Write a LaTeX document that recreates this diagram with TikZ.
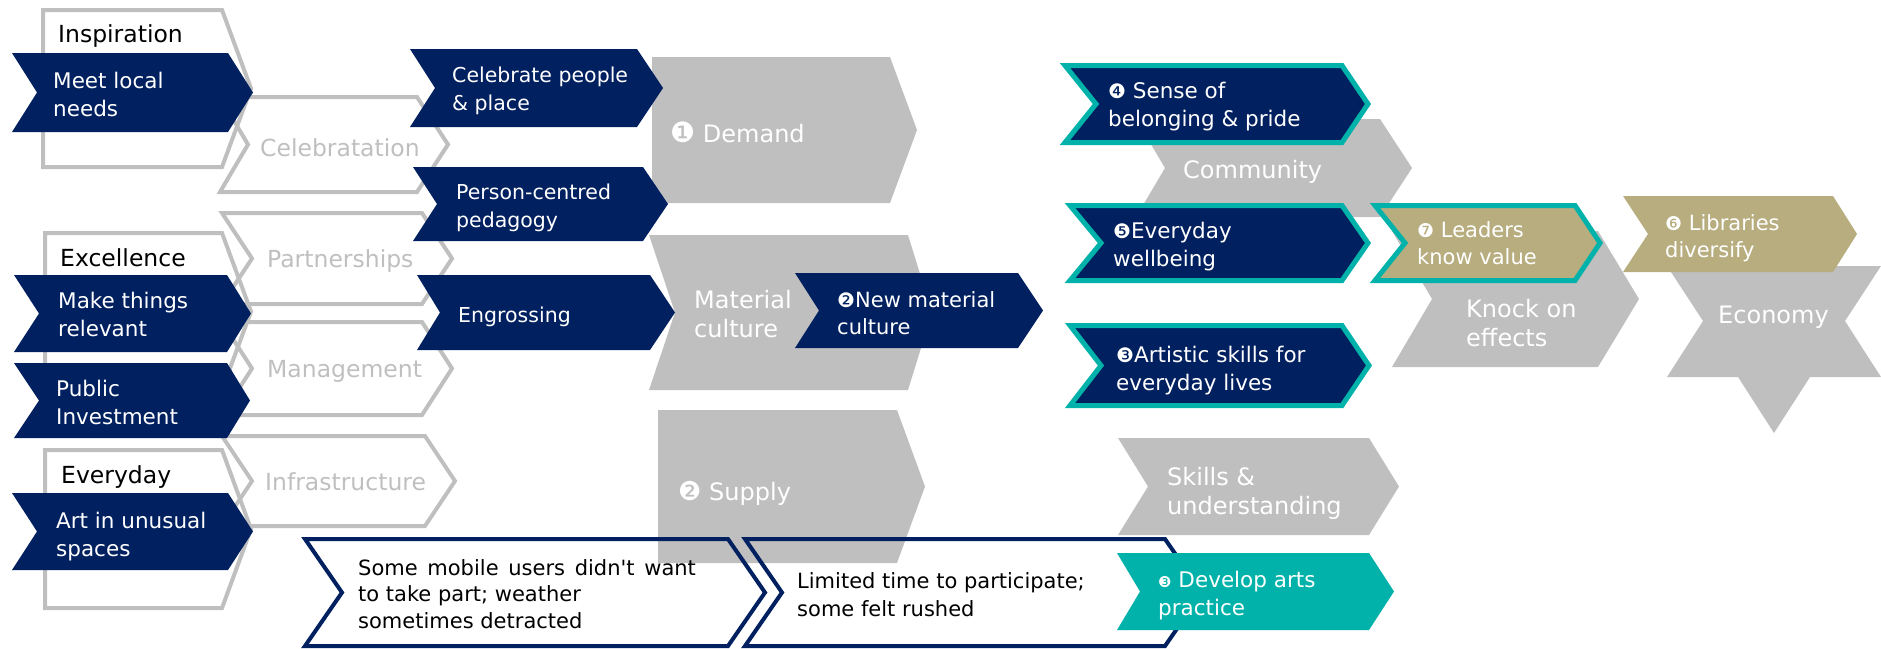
\documentclass[tikz,border=0pt]{standalone}
\usepackage{fontspec}
\setmainfont{DejaVu Sans}[Ligatures=TeXOff]
\definecolor{navy}{HTML}{002060}
\definecolor{teal}{HTML}{00B2A9}
\definecolor{tan}{HTML}{B7AD7E}
\definecolor{lgray}{HTML}{BFBFBF}
% chevron: style, x-left, x-right, y-top, y-bottom, tip x, notch x
\newcommand\chev[7]{%
  \path[#1] (#2,#4) -- (#3,#4) -- (#6,{(#4+#5)/2}) -- (#3,#5) -- (#2,#5)
    -- (#7,{(#4+#5)/2}) -- cycle;}
\newcommand\twol[2]{\vtop{\hbox{#1}\hbox{#2}}}
\newcommand\threel[3]{\vtop{\hbox{#1}\hbox{#2}\hbox{#3}}}
\newcommand\cnum[2]{{\fontsize{#1}{#1}\selectfont #2}}
\begin{document}
\begin{tikzpicture}[x=1pt,y=-1pt,line join=miter,
  outl/.style={draw=lgray,line width=4pt},
  navyout/.style={draw=navy,line width=4pt},
  navyfill/.style={fill=navy},
  tealbox/.style={fill=navy,draw=teal,line width=5pt},
  tanbox/.style={fill=tan},
  tantealbox/.style={fill=tan,draw=teal,line width=5pt},
  grayfill/.style={fill=lgray},
  tealfill/.style={fill=teal},
  lbl/.style={inner sep=0pt,anchor=base west},
  head/.style={lbl,text=black,font=\fontsize{23.5}{29}\selectfont},
  outlbl/.style={lbl,text=lgray,font=\fontsize{23.5}{29}\selectfont},
  navyl/.style={lbl,text=white,font=\fontsize{21.5}{28}\selectfont},
  navym/.style={lbl,text=white,font=\fontsize{20.5}{28}\selectfont},
  grayl/.style={lbl,text=white,font=\fontsize{24}{29.5}\selectfont},
  rightl/.style={lbl,text=white,font=\fontsize{21.5}{28}\selectfont},
  blackl/.style={lbl,text=black,font=\fontsize{21}{26.5}\selectfont}]
\useasboundingbox (0,0) rectangle (1881,648);

% heading frames
\chev{outl}{43}{222}{10}{167}{251}{43}
\chev{outl}{45}{222}{233}{390}{251}{45}
\chev{outl}{45}{222}{450}{608}{251}{45}
% outline chevrons
\chev{outl}{220}{417}{97}{192}{448}{248}
\chev{outl}{222}{422}{213}{304}{452}{252}
\chev{outl}{222}{422}{322}{415}{452}{252}
\chev{outl}{222}{425}{436}{526}{455}{252}
% left navy chevrons
\chev{navyfill}{12}{228}{53}{132}{253}{37}
\chev{navyfill}{14}{227}{275}{352}{251}{39}
\chev{navyfill}{14}{227}{363}{438}{250}{39}
\chev{navyfill}{12}{228}{493}{570}{253}{37}
% large grey stages
\chev{grayfill}{652}{890}{57}{203}{917}{652}
\chev{grayfill}{649}{908}{235}{390}{932}{675}
\chev{grayfill}{658}{897}{410}{563}{925}{658}
% middle navy chevrons
\chev{navyfill}{410}{637}{49}{127}{663}{435}
\chev{navyfill}{413}{643}{167}{241}{668}{437}
\chev{navyfill}{417}{650}{275}{350}{675}{440}
\chev{navyfill}{795}{1018}{273}{348}{1043}{819}
% barriers
\chev{navyout}{305}{728}{539}{646}{765}{342}
\chev{navyout}{745}{1165}{539}{646}{1202}{782}
% outcomes
\chev{grayfill}{1136}{1380}{119}{217}{1412}{1165}
\chev{tealbox}{1065}{1342}{65.5}{142.5}{1368}{1096}
\chev{tealbox}{1070}{1342}{205.5}{280.5}{1368}{1101}
\chev{tealbox}{1070}{1342}{325.5}{405.5}{1369}{1101}
\chev{grayfill}{1392}{1598}{231}{367}{1639}{1432}
\chev{tantealbox}{1375}{1575}{205.5}{280.5}{1600}{1405}
\chev{grayfill}{1118}{1369}{438}{535}{1399}{1148}
\chev{tealfill}{1117}{1369}{553}{630}{1394}{1140}
% economy star
\path[grayfill] (1774,209) -- (1810,266) -- (1881,266) -- (1845,321) -- (1881,377)
  -- (1810,377) -- (1774,433) -- (1738,377) -- (1667,377) -- (1703,321)
  -- (1667,266) -- (1738,266) -- cycle;
\chev{tanbox}{1623}{1833}{196}{272}{1857}{1648}

% texts
\node[head] (insp) at (58,42) {Inspiration};
\node[head] (exc) at (60,266) {Excellence};
\node[head] (evd) at (61,483) {Everyday};
\node[outlbl] (celb) at (260,156) {Celebratation};
\node[outlbl] (part) at (267,267) {Partnerships};
\node[outlbl] (mgmt) at (267,377) {Management};
\node[outlbl] (infra) at (265,490) {Infrastructure};
\node[navyl] (meet) at (53,88) {\twol{Meet local}{needs}};
\node[navyl] (make) at (58,308) {\twol{Make things}{relevant}};
\node[navyl] (pub) at (56,396) {\twol{Public}{Investment}};
\node[navyl] (art) at (56,528) {\twol{Art in unusual}{spaces}};
\node[navym] (cpp) at (452,82) {\twol{Celebrate people}{\& place}};
\node[navym] (pcp) at (456,199) {\twol{Person-centred}{pedagogy}};
\node[navym] (eng) at (458,322) {Engrossing};
\node[grayl] (dem) at (670,142) {\cnum{28}{❶} Demand};
\node[grayl] (mat) at (694,308) {\twol{Material}{culture}};
\node[grayl] (sup) at (678,500) {\cnum{26}{❷} Supply};
\node[navyl,font=\fontsize{21}{27}\selectfont] (nmc) at (837,307) {\twol{\cnum{20}{❷}New material}{culture}};
\node[blackl] (mob) at (358,575) {\threel{\spaceskip=9.7pt Some mobile users didn't want}{to take part; weather}{sometimes detracted}};
\node[blackl,font=\fontsize{21}{28}\selectfont] (lim) at (797,588) {\twol{Limited time to participate;}{some felt rushed}};
\node[grayl] (com) at (1183,178) {Community};
\node[rightl] (sen) at (1108,98) {\twol{\cnum{20}{❹} Sense of}{belonging \& pride}};
\node[rightl] (wel) at (1113,238) {\twol{\cnum{20}{❺}Everyday}{wellbeing}};
\node[rightl] (art2) at (1116,362) {\twol{\cnum{20}{❸}Artistic skills for}{everyday lives}};
\node[grayl] (kno) at (1466,317) {\twol{Knock on}{effects}};
\node[rightl,font=\fontsize{21}{27}\selectfont] (lea) at (1417,237) {\twol{\cnum{19}{❼} Leaders}{know value}};
\node[rightl,font=\fontsize{21}{27}\selectfont] (lib) at (1665,230) {\twol{\cnum{19}{❻} Libraries}{diversify}};
\node[grayl] (eco) at (1718,323) {Economy};
\node[grayl] (ski) at (1167,485) {\twol{Skills \&}{understanding}};
\node[rightl] (dev) at (1158,587) {\twol{\cnum{15}{❸} Develop arts}{practice}};
\end{tikzpicture}
\end{document}
